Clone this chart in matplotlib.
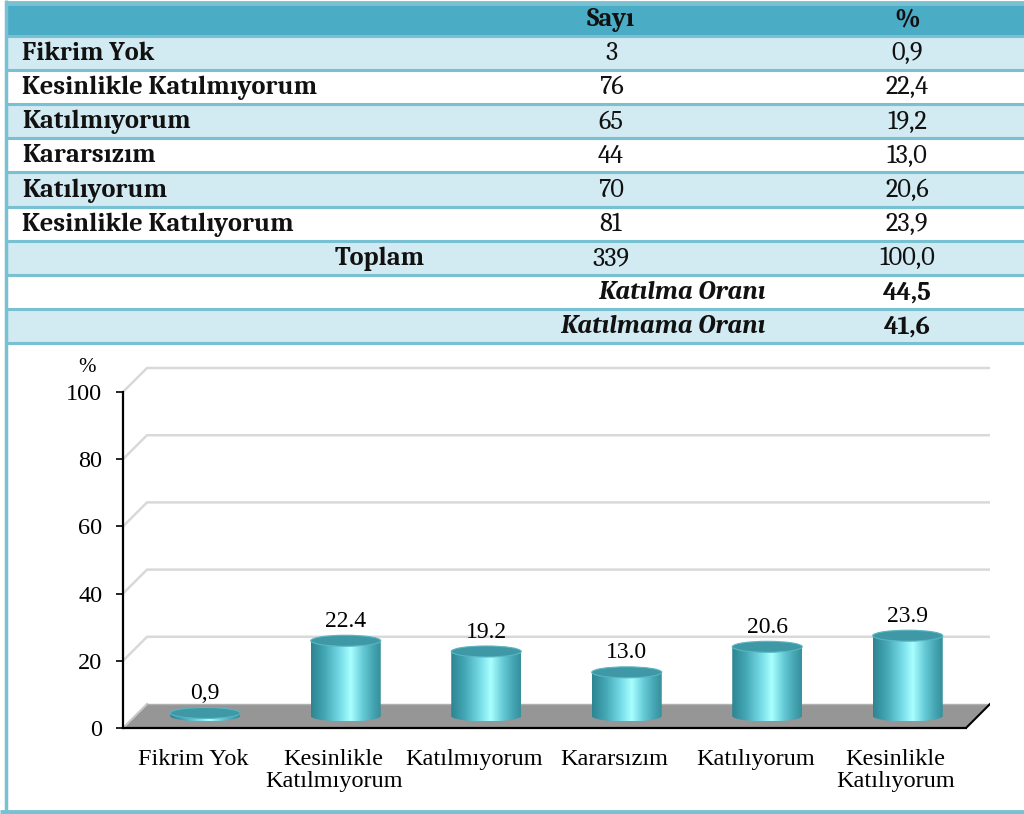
import numpy as np
import matplotlib
matplotlib.use('Agg')
import matplotlib.pyplot as plt
from matplotlib.patches import Polygon, Ellipse, Rectangle
from matplotlib.colors import LinearSegmentedColormap

# data
labels = ['Fikrim Yok', 'Kesinlikle Katılmıyorum', 'Katılmıyorum',
          'Kararsızım', 'Katılıyorum', 'Kesinlikle Katılıyorum']
counts = [3, 76, 65, 44, 70, 81]
pcts = ['0,9', '22,4', '19,2', '13,0', '20,6', '23,9']
total_n = '339'
total_pct = '100,0'
katilma = '44,5'
katilmama = '41,6'

bar_vals = [0.9, 22.4, 19.2, 13.0, 20.6, 23.9]
bar_texts = ['0,9', '22.4', '19.2', '13.0', '20.6', '23.9']
xlabels = ['Fikrim Yok', 'Kesinlikle\nKatılmıyorum', 'Katılmıyorum',
           'Kararsızım', 'Katılıyorum', 'Kesinlikle\nKatılıyorum']
yticks = [0, 20, 40, 60, 80, 100]

W, H = 1024, 814
fig = plt.figure(figsize=(W / 100, H / 100), dpi=100)
fig.patch.set_facecolor('white')

# ---- table (pixel coordinates) ----
tb = fig.add_axes([0, 0, 1, 1])
tb.set_xlim(0, W)
tb.set_ylim(H, 0)
tb.axis('off')

dark = '#4bacc6'
light = '#d2eaf1'
line_c = '#78c1d3'
txt_c = '#111111'
tfont = 'Caladea'
sfont = 'Liberation Serif'
fs = 19

top0, hdr_bot, pitch = 3, 35.5, 34.2
tb.add_patch(Rectangle((6, top0), W, hdr_bot - top0, color=dark, lw=0))
n_rows = 9
for r in range(n_rows):
    y0 = hdr_bot + r * pitch
    col = light if r % 2 == 0 else 'white'
    tb.add_patch(Rectangle((6, y0), W, pitch, color=col, lw=0))
for r in range(n_rows + 1):
    y0 = hdr_bot + r * pitch
    tb.plot([6, W], [y0, y0], color=line_c, lw=2.2, solid_capstyle='butt')
tb.plot([6, W], [2.5, 2.5], color=line_c, lw=3.5, solid_capstyle='butt')
tb.plot([6, 6], [0, H], color=line_c, lw=2.5, solid_capstyle='butt')
tb.plot([0, W], [811.5, 811.5], color=line_c, lw=3.5, solid_capstyle='butt')

x_lab, x_n, x_p = 22, 611, 907
yc = (top0 + hdr_bot) / 2 + 1
tb.text(x_n, yc, 'Sayı', ha='center', va='center', fontsize=fs,
        fontweight='bold', family=tfont, color=txt_c)
tb.text(x_p, yc, '%', ha='center', va='center', fontsize=fs,
        fontweight='bold', family=tfont, color=txt_c)
for i, lab in enumerate(labels):
    yc = hdr_bot + (i + 0.5) * pitch + 1
    tb.text(x_lab, yc, lab, ha='left', va='center', fontsize=fs,
            fontweight='bold', family=tfont, color=txt_c)
    tb.text(x_n, yc, str(counts[i]), ha='center', va='center', fontsize=fs,
            family=tfont, color=txt_c)
    tb.text(x_p, yc, pcts[i], ha='center', va='center', fontsize=fs,
            family=tfont, color=txt_c)
yc = hdr_bot + 6.5 * pitch + 1
tb.text(380, yc, 'Toplam', ha='center', va='center', fontsize=fs,
        fontweight='bold', family=tfont, color=txt_c)
tb.text(x_n, yc, total_n, ha='center', va='center', fontsize=fs,
        family=tfont, color=txt_c)
tb.text(x_p, yc, total_pct, ha='center', va='center', fontsize=fs,
        family=tfont, color=txt_c)
for k, (name, val) in enumerate([('Katılma Oranı', katilma),
                                 ('Katılmama Oranı', katilmama)]):
    yc = hdr_bot + (7.5 + k) * pitch + 1
    tb.text(766, yc, name, ha='right', va='center', fontsize=fs,
            fontweight='bold', style='italic', family=tfont, color=txt_c)
    tb.text(x_p, yc, val, ha='center', va='center', fontsize=fs,
            fontweight='bold', family=tfont, color=txt_c)

# ---- 3D-ish cylinder chart ----
px_l, px_r, px_b, px_t = 123, 990, 728, 360
cat_px = 140.5
unit_px = 3.36
ax = fig.add_axes([px_l / W, (H - px_b) / H, (px_r - px_l) / W, (px_b - px_t) / H])
xmax = (px_r - px_l) / cat_px
ymax = (px_b - px_t) / unit_px
ax.patch.set_alpha(0)

dx = 24 / cat_px
dy = 24 / unit_px

# back grid lines
for v in yticks[1:]:
    ax.plot([0, dx, xmax], [v, v + dy, v + dy], color='#d9d9d9', lw=1.8, zorder=1)

# floor
ax.add_patch(Polygon([(0, 0), (dx, dy), (xmax, dy), (6, 0)], closed=True,
                     facecolor='#969696', edgecolor='none', zorder=2))
ax.plot([0, dx], [0, dy], color='#c8c8c8', lw=1.5, zorder=3)
ax.plot([dx, xmax], [dy, dy], color='#b0b0b0', lw=1.0, zorder=3)
ax.plot([6, xmax], [0, dy], color='black', lw=1.5, zorder=3)

# cylinders
cmap = LinearSegmentedColormap.from_list('cyl', [
    (0.0, '#2d8492'), (0.2, '#45a8b6'), (0.42, '#78dde8'),
    (0.57, '#a8ffff'), (0.74, '#66cbd7'), (0.9, '#43a3b0'), (1.0, '#368f9c')])
half_w = 35 / cat_px
ry = 5.5 / unit_px
grad = np.linspace(0, 1, 256).reshape(1, -1)
for i, v in enumerate(bar_vals):
    cx = i + 0.5 + dx / 2
    yb = dy / 2
    yt = yb + v
    t = np.linspace(np.pi, 2 * np.pi, 60)
    bottom_arc = np.column_stack([cx + half_w * np.cos(t), yb + ry * np.sin(t)])
    verts = np.vstack([[[cx - half_w, yt]], bottom_arc, [[cx + half_w, yt]],
                       [[cx - half_w, yt]]])
    body = Polygon(verts, closed=True, facecolor='none', edgecolor='none')
    ax.add_patch(body)
    im = ax.imshow(grad, cmap=cmap, aspect='auto', zorder=4,
                   extent=(cx - half_w, cx + half_w, yb - ry, yt),
                   interpolation='bilinear')
    im.set_clip_path(body)
    ax.add_patch(Ellipse((cx, yt), 2 * half_w, 2 * ry, facecolor='#3f98a5',
                         edgecolor='#5ab6c2', lw=0.8, zorder=5))
    ax.text(cx, yt + ry + 1.0, bar_texts[i], ha='center', va='bottom',
            fontsize=17, family=sfont, color='black', zorder=6)

ax.set_xlim(0, xmax)
ax.set_ylim(0, ymax)

# axes
for s in ['top', 'right']:
    ax.spines[s].set_visible(False)
ax.spines['left'].set_bounds(0, 100)
ax.spines['bottom'].set_bounds(0, 6)
ax.spines['left'].set_linewidth(1.6)
ax.spines['bottom'].set_linewidth(1.6)
ax.spines['left'].set_zorder(7)
ax.spines['bottom'].set_zorder(7)
ax.set_yticks(yticks)
ax.set_yticklabels([str(v) for v in yticks], fontsize=17.5, family=sfont)
ax.tick_params(axis='y', length=5, width=1.2, pad=10, direction='out')
ax.set_xticks([i + 0.5 for i in range(6)])
ax.set_xticklabels(xlabels, fontsize=17.5, family=sfont,
                   linespacing=1.05, va='top')
ax.set_xticks([1, 2, 3, 4, 5], minor=True)
ax.tick_params(axis='x', which='major', length=0, pad=15)
ax.tick_params(axis='x', which='minor', length=5, width=1.2, direction='in')

fig.text(87 / W, 1 - 368 / H, '%', ha='center', va='center', fontsize=15,
         family=sfont)

fig.savefig('out.png', dpi=100)
